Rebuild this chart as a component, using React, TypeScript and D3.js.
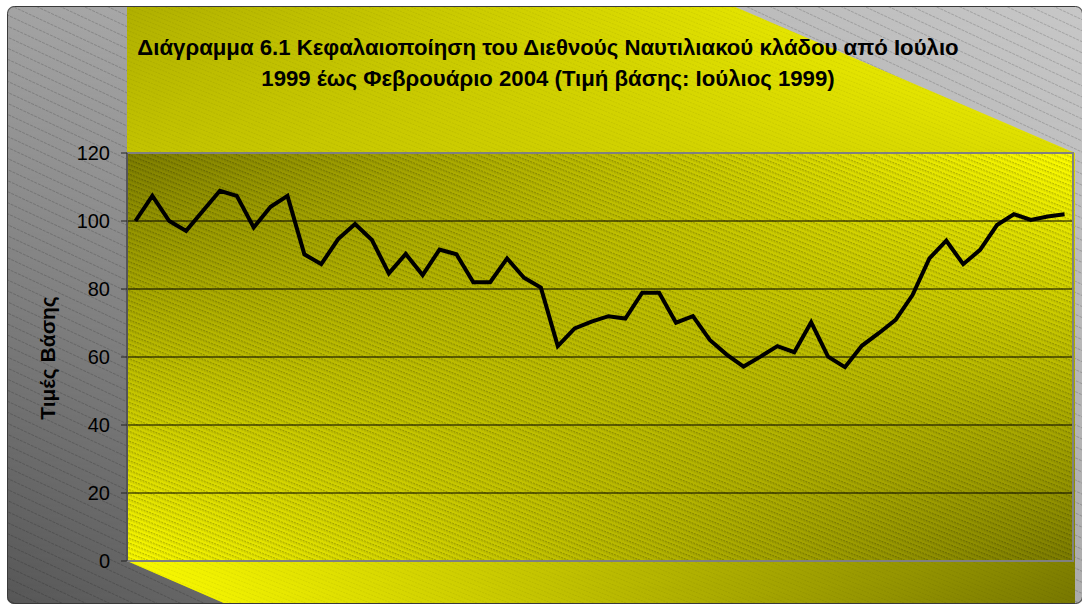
import React from "react";
import * as d3 from "d3";

const months: string[] = [
  "Ιουλ-99","Αυγ-99","Σεπ-99","Οκτ-99","Νοε-99","Δεκ-99",
  "Ιαν-00","Φεβ-00","Μαρ-00","Απρ-00","Μαϊ-00","Ιουν-00","Ιουλ-00","Αυγ-00","Σεπ-00","Οκτ-00","Νοε-00","Δεκ-00",
  "Ιαν-01","Φεβ-01","Μαρ-01","Απρ-01","Μαϊ-01","Ιουν-01","Ιουλ-01","Αυγ-01","Σεπ-01","Οκτ-01","Νοε-01","Δεκ-01",
  "Ιαν-02","Φεβ-02","Μαρ-02","Απρ-02","Μαϊ-02","Ιουν-02","Ιουλ-02","Αυγ-02","Σεπ-02","Οκτ-02","Νοε-02","Δεκ-02",
  "Ιαν-03","Φεβ-03","Μαρ-03","Απρ-03","Μαϊ-03","Ιουν-03","Ιουλ-03","Αυγ-03","Σεπ-03","Οκτ-03","Νοε-03","Δεκ-03",
  "Ιαν-04","Φεβ-04",
];

const values: number[] = [
  100, 107.4, 100, 97.1, 103, 108.9, 107.4, 98.1, 104.2, 107.4,
  90.2, 87.3, 94.7, 99.1, 94.4, 84.6, 90.3, 84.1, 91.6, 90.2,
  82, 82, 89, 83.3, 80.4, 63.2, 68.4, 70.4, 72, 71.3,
  78.9, 78.9, 70.1, 72, 65, 60.7, 57.2, 60.1, 63.2, 61.4,
  70.2, 60.1, 57, 63.3, 67, 70.9, 78.2, 89, 94.2, 87.3,
  91.5, 98.8, 102, 100.3, 101.3, 102,
];

const yTicks: number[] = [0, 20, 40, 60, 80, 100, 120];

const titleLines: string[] = [
  "Διάγραμμα 6.1 Κεφαλαιοποίηση του Διεθνούς Ναυτιλιακού κλάδου από Ιούλιο",
  "1999 έως Φεβρουάριο 2004 (Τιμή βάσης: Ιούλιος 1999)",
];
const yTitle = "Τιμές Βάσης";

const W = 1082;
const H = 607;
const plot = { left: 127, right: 1073, top: 153, bottom: 561 };
const area = { x: 7, y: 6, w: 1076, h: 598 };

function Bilinear({ id, x, y, w, h, tl, tr, bl, br, clip }: any) {
  return (
    <g clipPath={clip}>
      <defs>
        <linearGradient id={`${id}-top`} x1="0" y1="0" x2="1" y2="0">
          <stop offset="0" stopColor={tl} />
          <stop offset="1" stopColor={tr} />
        </linearGradient>
        <linearGradient id={`${id}-bot`} x1="0" y1="0" x2="1" y2="0">
          <stop offset="0" stopColor={bl} />
          <stop offset="1" stopColor={br} />
        </linearGradient>
        <linearGradient id={`${id}-v`} x1="0" y1="0" x2="0" y2="1">
          <stop offset="0" stopColor="#000" />
          <stop offset="1" stopColor="#fff" />
        </linearGradient>
        <mask id={`${id}-m`} maskUnits="userSpaceOnUse" x={x} y={y} width={w} height={h}>
          <rect x={x} y={y} width={w} height={h} fill={`url(#${id}-v)`} />
        </mask>
      </defs>
      <rect x={x} y={y} width={w} height={h} fill={`url(#${id}-top)`} />
      <rect x={x} y={y} width={w} height={h} fill={`url(#${id}-bot)`} mask={`url(#${id}-m)`} />
    </g>
  );
}

export default function App() {
  const x = d3.scaleBand<string>().domain(months).range([plot.left, plot.right]);
  const y = d3.scaleLinear().domain([0, 120]).range([plot.bottom, plot.top]);
  const cx = (m: string) => (x(m) as number) + x.bandwidth() / 2;
  const line = d3
    .line<number>()
    .x((_, i) => cx(months[i]))
    .y((d) => y(d));

  const yellowPoly = [
    [plot.left, area.y],
    [733, area.y],
    [1075, plot.top],
    [1075, H],
    [233, H],
    [plot.left, plot.bottom],
  ];

  const font = "Arial, 'Liberation Sans', sans-serif";

  return (
    <svg
      width={W}
      height={H}
      style={{ position: "absolute", left: 0, top: 0, background: "#fff" }}
    >
      <defs>
        <clipPath id="areaClip">
          <rect x={area.x} y={area.y} width={area.w} height={area.h} rx={7} />
        </clipPath>
        <clipPath id="yellowClip">
          <polygon points={yellowPoly.map((p) => p.join(",")).join(" ")} />
        </clipPath>
        <pattern id="grayHatch" width="12" height="10" patternUnits="userSpaceOnUse" patternTransform="rotate(25)">
          <line x1="0" y1="0.5" x2="12" y2="0.5" stroke="#000" strokeOpacity="0.17" strokeWidth="1" strokeDasharray="3 1" />
        </pattern>
        <pattern id="yHatchFaint" width="6" height="4" patternUnits="userSpaceOnUse" patternTransform="rotate(22)">
          <line x1="0" y1="0.5" x2="6" y2="0.5" stroke="#000" strokeOpacity="0.06" strokeWidth="1" strokeDasharray="2 1" />
        </pattern>
        <pattern id="plotHatch" width="6" height="4.5" patternUnits="userSpaceOnUse" patternTransform="rotate(22)">
          <line x1="0" y1="0.6" x2="6" y2="0.6" stroke="#000" strokeOpacity="0.24" strokeWidth="1.2" strokeDasharray="2 1" />
          <line x1="1" y1="1.8" x2="7" y2="1.8" stroke="#000" strokeOpacity="0.15" strokeWidth="1" strokeDasharray="2 1" />
        </pattern>
      </defs>

      <g clipPath="url(#areaClip)">
        <Bilinear id="gray" x={area.x} y={area.y} w={area.w} h={area.h}
          tl="#a4a4a4" tr="#c8c8c8" bl="#565656" br="#ababab" />
        <rect x={area.x} y={area.y} width={area.w} height={area.h} fill="url(#grayHatch)" />
        <Bilinear id="yel" x={plot.left} y={area.y} w={1075 - plot.left} h={H - area.y}
          tl="#b0b000" tr="#ffff00" bl="#ffff00" br="#767600" clip="url(#yellowClip)" />
        <polygon points={yellowPoly.map((p) => p.join(",")).join(" ")} fill="url(#yHatchFaint)" />
        <rect x={area.x + 0.5} y={area.y + 0.5} width={area.w - 1} height={area.h - 1} rx={7}
          fill="none" stroke="#3a3a3a" strokeWidth={1} />
      </g>

      {/* plot area */}
      <Bilinear id="plt" x={plot.left} y={plot.top} w={plot.right - plot.left} h={plot.bottom - plot.top}
        tl="#7e7e00" tr="#ffff00" bl="#fafa00" br="#7c7c00" />
      <rect x={plot.left} y={plot.top} width={plot.right - plot.left} height={plot.bottom - plot.top}
        fill="url(#plotHatch)" />

      {/* gridlines */}
      {yTicks.filter((t) => t > 0 && t < 120).map((t) => (
        <line key={t} x1={plot.left} x2={plot.right} y1={y(t)} y2={y(t)} stroke="#000" strokeWidth={1.2} />
      ))}

      {/* border */}
      <rect x={plot.left} y={plot.top} width={plot.right - plot.left} height={plot.bottom - plot.top}
        fill="none" stroke="#808080" strokeWidth={2} />

      {/* y axis */}
      <line x1={plot.left} x2={plot.left} y1={plot.top} y2={plot.bottom} stroke="#555" strokeWidth={2} />
      {yTicks.map((t) => (
        <g key={t}>
          <line x1={plot.left - 6} x2={plot.left} y1={y(t)} y2={y(t)} stroke="#222" strokeWidth={1} />
          <text x={110} y={y(t)} dy="0.35em" textAnchor="end" fontFamily={font} fontSize={20} fill="#000">
            {t}
          </text>
        </g>
      ))}

      {/* line */}
      <path d={line(values) || ""} fill="none" stroke="#000" strokeWidth={4} strokeLinejoin="miter" strokeMiterlimit={4} />

      {/* titles */}
      {titleLines.map((s, i) => (
        <text key={i} x={548} y={55 + i * 31} textAnchor="middle" fontFamily={font} fontWeight="bold" fontSize={22.2} fill="#000">
          {s}
        </text>
      ))}
      <text transform={`translate(55,358) rotate(-90)`} textAnchor="middle" fontFamily={font} fontWeight="bold" fontSize={21} fill="#000">
        {yTitle}
      </text>
    </svg>
  );
}
